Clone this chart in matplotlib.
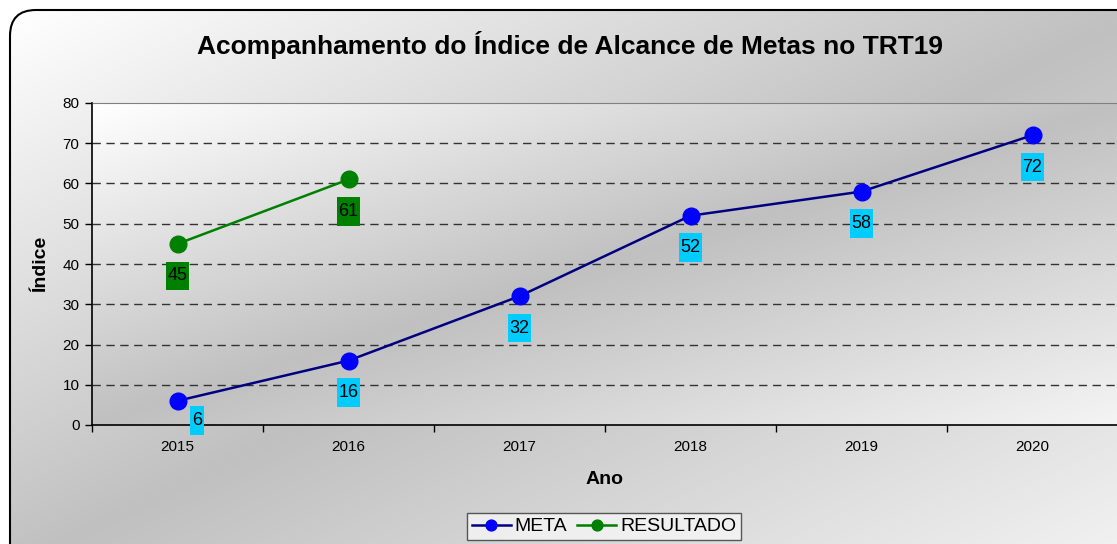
import numpy as np
import matplotlib
matplotlib.use("Agg")
from matplotlib import pyplot as plt
from matplotlib.patches import FancyBboxPatch
from matplotlib.colors import LinearSegmentedColormap
from matplotlib.path import Path

plt.rcParams['font.family'] = ['Liberation Sans', 'DejaVu Sans']

# dados do grafico
anos = ['2015', '2016', '2017', '2018', '2019', '2020']
meta = [6, 16, 32, 52, 58, 72]
resultado = [45, 61]

W, H = 1117, 544
fig = plt.figure(figsize=(W/100, H/100), dpi=100)

# gradiente diagonal: branco -> cinza -> branco
cmap = LinearSegmentedColormap.from_list('grad', ['#ffffff', '#c0c0c0', '#f4f4f4'])

def diag_gradient(nx, ny):
    gx = np.linspace(0, 1, nx)
    gy = np.linspace(0, 1, ny)[:, np.newaxis]
    return (gx + gy) / 2

# fundo da area do grafico (caixa arredondada)
bg = fig.add_axes([0, 0, 1, 1], zorder=-10)
bg.set_xlim(0, W)
bg.set_ylim(H, 0)
bg.axis('off')
box = FancyBboxPatch((10, 10), 1135, 560, boxstyle='round,pad=0,rounding_size=26',
                     facecolor='none', edgecolor='black', linewidth=1.5, zorder=2)
bg.add_patch(box)
img = bg.imshow(diag_gradient(300, 150), cmap=cmap, extent=(10, 1145, 570, 10),
                aspect='auto', zorder=1, interpolation='bilinear')
img.set_clip_path(box)

# eixo principal
ax = fig.add_axes([92/W, 1-425/H, 1026/W, 322/H])
ax.patch.set_visible(False)
x = np.arange(len(anos))
ax.imshow(diag_gradient(300, 100), cmap=cmap, extent=(-0.5, len(anos)-0.5, 0, 80),
          aspect='auto', zorder=0, interpolation='bilinear', origin='upper')
ax.set_xlim(-0.5, len(anos)-0.5)
ax.set_ylim(0, 80)

ax.set_yticks(np.arange(0, 81, 10))
ax.set_xticks(x)
ax.set_xticklabels(anos, fontsize=11)
ax.set_xticks(np.arange(-0.5, len(anos)), minor=True)
ax.tick_params(axis='x', which='major', length=0, pad=11)
ax.tick_params(axis='x', which='minor', length=5, width=1, direction='out')
ax.tick_params(axis='y', length=5, width=1, labelsize=11, pad=4)
ax.yaxis.grid(True, linestyle=(0, (6, 4)), color='#333333', linewidth=1)
ax.set_axisbelow(False)
ax.yaxis.get_gridlines()[-1].set_visible(False)
ax.yaxis.get_gridlines()[0].set_visible(False)
for gl in ax.yaxis.get_gridlines():
    gl.set_zorder(1)

ax.spines['right'].set_visible(False)
ax.spines['top'].set_color('#808080')
ax.spines['left'].set_linewidth(1.2)
ax.spines['bottom'].set_linewidth(1.2)

ax.plot(x, meta, color='#000080', lw=1.8, marker='o', markersize=12,
        markerfacecolor='#0000ff', markeredgecolor='#0000ff', label='META', zorder=3)
ax.plot(x[:len(resultado)], resultado, color='#008000', lw=1.8, marker='o', markersize=12,
        markerfacecolor='#008000', markeredgecolor='#008000', label='RESULTADO', zorder=3)

def tall_box(x0, y0, width, height, mutation_size):
    px, py = 0.1*mutation_size, 0.32*mutation_size
    return Path([(x0-px, y0-py), (x0+width+px, y0-py), (x0+width+px, y0+height+py),
                 (x0-px, y0+height+py), (x0-px, y0-py)], closed=True)

for i, v in enumerate(meta):
    off = (14, -14) if i == 0 else (0, -23)
    ax.annotate(str(v), (x[i], v), xytext=off, textcoords='offset points',
                ha='center', va='center', fontsize=13, zorder=4,
                bbox=dict(boxstyle=tall_box, facecolor='#00ccff', edgecolor='none'))
for i, v in enumerate(resultado):
    ax.annotate(str(v), (x[i], v), xytext=(0, -23), textcoords='offset points',
                ha='center', va='center', fontsize=13, zorder=4,
                bbox=dict(boxstyle=tall_box, facecolor='#008000', edgecolor='none'))

fig.text(570/W, 1-45/H, 'Acompanhamento do Índice de Alcance de Metas no TRT19',
         ha='center', va='center', fontsize=19, fontweight='bold')
fig.text(41/W, 1-264/H, 'Índice', rotation=90, ha='center', va='center',
         fontsize=14, fontweight='bold')
fig.text(605/W, 1-480/H, 'Ano', ha='center', va='center', fontsize=14, fontweight='bold')

leg = fig.legend(loc='upper center', bbox_to_anchor=(604/W, 1-513/H), ncol=2,
                 fontsize=14, frameon=True, fancybox=False, markerscale=0.65,
                 handlelength=2.0, handletextpad=0.2, columnspacing=0.5,
                 borderpad=0.25, borderaxespad=0)
leg.get_frame().set_edgecolor('#333333')
leg.get_frame().set_facecolor('#f6f6f6')
leg.get_frame().set_linewidth(1)

fig.savefig('out.png', dpi=100)
